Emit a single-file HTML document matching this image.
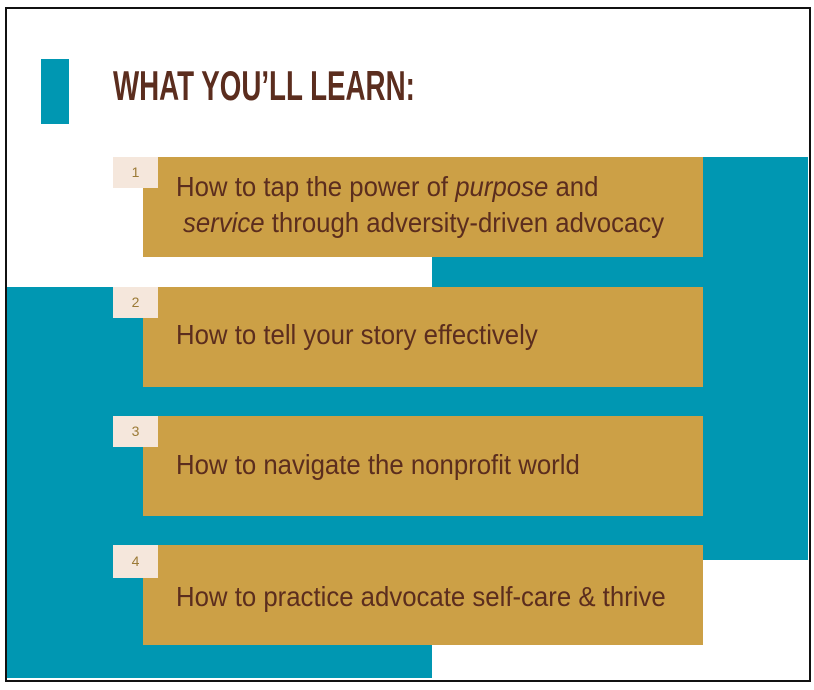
<!DOCTYPE html>
<html><head><meta charset="utf-8"><style>
body{margin:0;width:814px;height:690px;background:#fff;position:relative;overflow:hidden;font-family:"Liberation Sans",sans-serif}
.a{position:absolute}
.t{background:#0097b2}
.g{background:#cca046}
.n{background:#f5e7dc;color:#9b7a36;font-size:14px;text-align:center;line-height:31px;width:45px;height:31px}
.tx{position:absolute;left:176px;color:#5b2d1e;font-size:28px;white-space:nowrap;transform-origin:0 0;transform:scaleX(0.92)}
</style></head><body>
<div class="a" style="left:5px;top:7px;width:802px;height:671px;border:2px solid #111"></div>
<div class="a t" style="left:41px;top:59px;width:28px;height:65px"></div>
<div class="a" style="left:113px;top:62px;color:#5b2d1e;font-weight:bold;font-size:42px;white-space:nowrap;transform-origin:0 0;transform:scaleX(0.66)">WHAT YOU’LL LEARN:</div>
<div class="a t" style="left:703px;top:157px;width:105px;height:403px"></div>
<div class="a t" style="left:432px;top:257px;width:376px;height:303px"></div>
<div class="a t" style="left:7px;top:287px;width:425px;height:391px"></div>
<div class="a t" style="left:7px;top:287px;width:801px;height:273px"></div>

<div class="a g" style="left:143px;top:157px;width:560px;height:100px"></div>
<div class="a n" style="left:113px;top:157px">1</div>
<div class="tx" style="top:171px">How to tap the power of <i>purpose</i> and</div>
<div class="tx" style="top:207px;left:183px"><i>service</i> through adversity-driven advocacy</div>

<div class="a g" style="left:143px;top:287px;width:560px;height:100px"></div>
<div class="a n" style="left:113px;top:287px">2</div>
<div class="tx" style="top:319px">How to tell your story effectively</div>

<div class="a g" style="left:143px;top:416px;width:560px;height:100px"></div>
<div class="a n" style="left:113px;top:416px">3</div>
<div class="tx" style="top:449px">How to navigate the nonprofit world</div>

<div class="a g" style="left:143px;top:545px;width:560px;height:100px"></div>
<div class="a n" style="left:113px;top:545px;height:33px;line-height:33px">4</div>
<div class="tx" style="top:581px">How to practice advocate self-care &amp; thrive</div>
</body></html>
